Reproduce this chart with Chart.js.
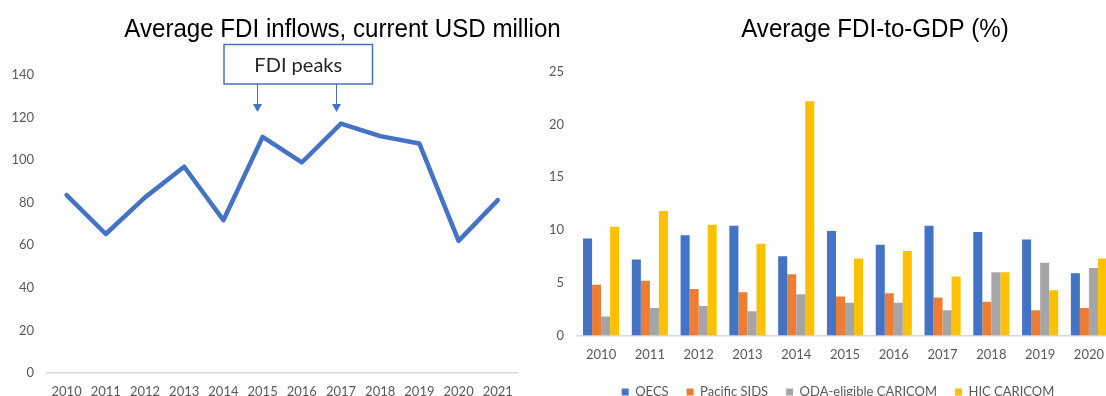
<!DOCTYPE html>
<html>
<head>
<meta charset="utf-8">
<script src="https://cdn.jsdelivr.net/npm/chart.js@4.4.1/dist/chart.umd.min.js"></script>
<style>
  html, body { margin: 0; padding: 0; background: #fff; overflow: hidden; }
  #wrap { position: relative; width: 1106px; height: 396px; overflow: hidden; }
  #leftBox { position: absolute; left: 0; top: 0; width: 580px; height: 396px; }
  #rightBox { position: absolute; left: 540px; top: 0; width: 576px; height: 412px; }
</style>
</head>
<body>
<div id="wrap">
  <div id="leftBox"><canvas id="fdiChart"></canvas></div>
  <div id="rightBox"><canvas id="ratioChart"></canvas></div>
</div>
<script>
// Average FDI inflows (current USD million)
const years = ['2010', '2011', '2012', '2013', '2014', '2015', '2016', '2017', '2018', '2019', '2020', '2021'];
const fdiInflows = [83.6, 65.3, 82.5, 96.9, 71.8, 110.9, 98.9, 117.2, 111.3, 107.8, 62.1, 81.2];
const peakYears = ['2015', '2017'];

// Average FDI-to-GDP (%)
const barYears = ['2010', '2011', '2012', '2013', '2014', '2015', '2016', '2017', '2018', '2019', '2020'];
const oecs        = [9.2, 7.2, 9.5, 10.4, 7.5, 9.9, 8.6, 10.4, 9.8, 9.1, 5.9];
const pacificSids = [4.8, 5.2, 4.4, 4.1, 5.8, 3.7, 4.0, 3.6, 3.2, 2.4, 2.6];
const odaCaricom  = [1.8, 2.6, 2.8, 2.3, 3.9, 3.1, 3.1, 2.4, 6.0, 6.9, 6.4];
const hicCaricom  = [10.3, 11.8, 10.5, 8.7, 22.2, 7.3, 8.0, 5.6, 6.0, 4.3, 7.3];
const seriesNames = ['OECS', 'Pacific SIDS', 'ODA-eligible CARICOM', 'HIC CARICOM'];

const tickFont = { family: 'Lato', size: 13 };
const tickColor = '#595959';
const axisLine = '#D9D9D9';

// Condensed headline text (horizontally squeezed sans)
const narrowTitle = {
  id: 'narrowTitle',
  afterDraw(chart, args, opts) {
    const ctx = chart.ctx;
    ctx.save();
    ctx.font = opts.size + 'px "Liberation Sans", Arial, sans-serif';
    ctx.fillStyle = opts.color;
    ctx.textAlign = 'center';
    ctx.textBaseline = 'alphabetic';
    ctx.translate(opts.x, opts.y);
    ctx.scale(opts.squeeze, 1);
    ctx.fillText(opts.text, 0, 0);
    ctx.restore();
  }
};

// Moves the legend sideways after layout
const legendNudge = {
  id: 'legendNudge',
  afterLayout(chart, args, opts) {
    const lg = chart.legend;
    if (lg && opts.dx) {
      lg.left += opts.dx;
      lg.right += opts.dx;
    }
  }
};

// Callout box with arrows pointing at the peak years
const peakCallout = {
  id: 'peakCallout',
  afterDraw(chart, args, opts) {
    const ctx = chart.ctx;
    const xScale = chart.scales.x;
    const b = opts.box;
    ctx.save();
    ctx.fillStyle = '#fff';
    ctx.fillRect(b.left, b.top, b.width, b.height);
    ctx.strokeStyle = opts.color;
    ctx.lineWidth = 1.5;
    ctx.strokeRect(b.left, b.top, b.width, b.height);
    ctx.fillStyle = '#262626';
    ctx.font = '20px Lato, sans-serif';
    ctx.textAlign = 'center';
    ctx.textBaseline = 'middle';
    ctx.fillText(opts.text, b.left + b.width / 2, b.top + b.height / 2 + 1);

    ctx.strokeStyle = opts.color;
    ctx.fillStyle = opts.color;
    ctx.lineWidth = 1;
    opts.years.forEach(yr => {
      const x = Math.round(xScale.getPixelForValue(years.indexOf(yr)) - opts.shift) + 0.5;
      const y0 = b.top + b.height;
      ctx.beginPath();
      ctx.moveTo(x, y0);
      ctx.lineTo(x, opts.tipY - opts.headH);
      ctx.stroke();
      ctx.beginPath();
      ctx.moveTo(x - opts.headW / 2, opts.tipY - opts.headH);
      ctx.lineTo(x + opts.headW / 2, opts.tipY - opts.headH);
      ctx.lineTo(x, opts.tipY);
      ctx.closePath();
      ctx.fill();
    });
    ctx.restore();
  }
};

new Chart(document.getElementById('fdiChart'), {
  type: 'line',
  data: {
    labels: years,
    datasets: [{
      label: 'Average FDI inflows',
      data: fdiInflows,
      borderColor: '#4472C4',
      backgroundColor: '#4472C4',
      borderWidth: 4.5,
      pointRadius: 0,
      tension: 0,
      borderJoinStyle: 'round',
      borderCapStyle: 'round',
      fill: false
    }]
  },
  options: {
    responsive: true,
    maintainAspectRatio: false,
    animation: false,
    layout: { padding: { top: 75, left: 0, right: 62.6, bottom: 0 } },
    scales: {
      x: {
        offset: true,
        grid: { display: false, drawTicks: false },
        border: { display: true, color: axisLine, width: 1.5 },
        ticks: { color: tickColor, font: tickFont, padding: 11.5, maxRotation: 0, autoSkip: false },
        afterFit: s => { s.height = 23; }
      },
      y: {
        min: 0, max: 140,
        ticks: { stepSize: 20, color: tickColor, font: tickFont, padding: 13 },
        grid: { display: false, drawTicks: false },
        border: { display: false },
        afterFit: s => { s.width = 47; }
      }
    },
    plugins: {
      legend: { display: false },
      tooltip: { enabled: false },
      narrowTitle: { text: 'Average FDI inflows, current USD million', x: 342.5, y: 37.3, size: 26.5, squeeze: 0.91, color: '#000' },
      peakCallout: {
        text: 'FDI peaks', years: peakYears, color: '#4472C4',
        box: { left: 224, top: 44.5, width: 148.5, height: 39.5 },
        shift: 5.5, tipY: 112, headH: 8, headW: 9
      }
    }
  },
  plugins: [narrowTitle, peakCallout]
});

const colors = ['#4472C4', '#ED7D31', '#A5A5A5', '#FFC000'];
const ratioSeries = [oecs, pacificSids, odaCaricom, hicCaricom];

new Chart(document.getElementById('ratioChart'), {
  type: 'bar',
  data: {
    labels: barYears,
    datasets: ratioSeries.map((vals, i) => ({
      label: seriesNames[i],
      data: vals,
      backgroundColor: colors[i],
      borderWidth: 0
    }))
  },
  options: {
    responsive: true,
    maintainAspectRatio: false,
    animation: false,
    layout: { padding: { top: 71.7, left: 0, right: 0, bottom: 3.5 } },
    datasets: { bar: { categoryPercentage: 0.74, barPercentage: 1 } },
    scales: {
      x: {
        grid: { display: false, drawTicks: false },
        border: { display: true, color: axisLine, width: 1.5 },
        ticks: { color: tickColor, font: tickFont, padding: 12, maxRotation: 0, autoSkip: false },
        afterFit: s => { s.height = 32; }
      },
      y: {
        min: 0, max: 25,
        ticks: { stepSize: 5, color: tickColor, font: tickFont, padding: 12.7 },
        grid: { display: false, drawTicks: false },
        border: { display: false },
        afterFit: s => { s.width = 36.7; }
      }
    },
    plugins: {
      legend: {
        position: 'bottom',
        labels: { boxWidth: 7, boxHeight: 7, padding: 18, color: tickColor, font: { family: 'Lato', size: 13 } }
      },
      legendNudge: { dx: 10 },
      tooltip: { enabled: false },
      narrowTitle: { text: 'Average FDI-to-GDP (%)', x: 335, y: 37.3, size: 26.5, squeeze: 0.91, color: '#000' }
    }
  },
  plugins: [narrowTitle, legendNudge]
});
</script>
</body>
</html>
